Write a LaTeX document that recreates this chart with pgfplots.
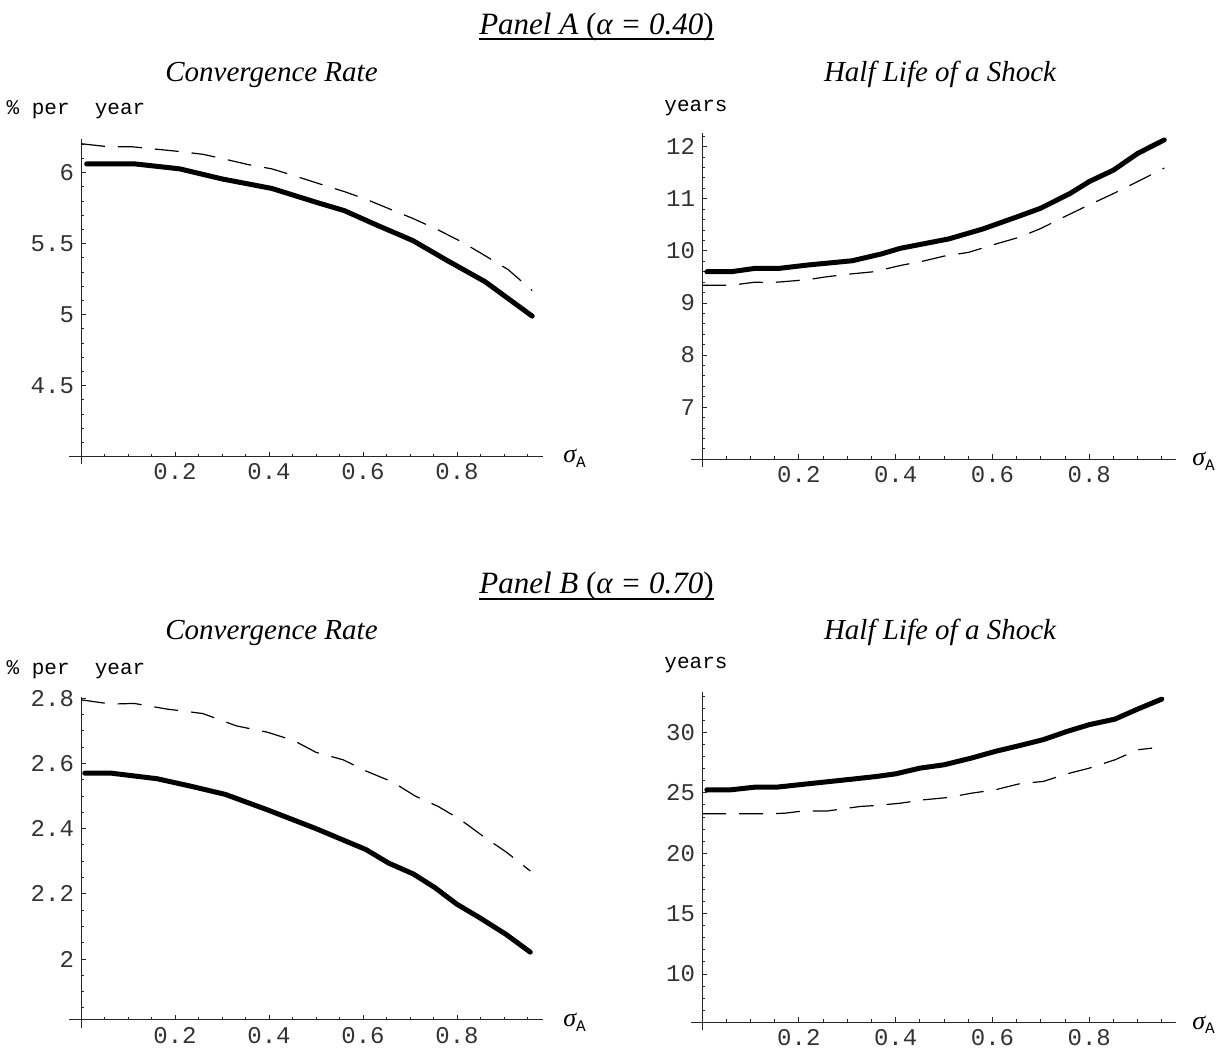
\documentclass[border=0pt]{standalone}
\usepackage{fontspec}
\setmainfont{Liberation Serif}
\setmonofont{Liberation Mono}
\usepackage{pgfplots}
\pgfplotsset{compat=1.18}

\pgfplotsset{
  mma/.style={
    scale only axis,
    axis lines=middle,
    axis line style={-, line width=0.5pt, black!85},
    inner axis line style={-},
    tick align=inside,
    major tick length=2.5pt,
    minor tick length=1.4pt,
    every tick/.style={black!85, line width=0.45pt},
    every minor tick/.style={black!85, line width=0.45pt},
    xtick={0.2,0.4,0.6,0.8},
    xticklabels={0.2,0.4,0.6,0.8},
    minor xtick={0.05,0.1,...,0.951},
    /pgf/number format/assume math mode=true,
    tick label style={font=\ttfamily\fontsize{12}{14}\selectfont, black!80},
    clip=false,
    anchor=south west,
  },
  thickline/.style={black, line width=2.5pt, line cap=round, line join=round},
  dashline/.style={black, line width=0.6pt, dash pattern=on 12pt off 6.5pt},
}
\tikzset{axext/.style={line width=0.5pt, black!85}}
\newcommand{\sigA}{{\fontsize{13}{15}\selectfont\itshape σ}{\ttfamily\fontsize{8}{9}\selectfont\raisebox{-2.5pt}{A}}}
\newcommand{\ttlab}{\ttfamily\fontsize{10.5}{13}\selectfont}
\newcommand{\ptitle}{\fontsize{15.5}{18}\selectfont}
\newcommand{\stitle}{\fontsize{14.5}{17}\selectfont\itshape}

\begin{document}
\begin{tikzpicture}
\useasboundingbox (0,0) rectangle (611.5pt,528.5pt);

% ---------------- Panel A left
\begin{axis}[mma, at={(34.63pt,300.15pt)}, width=237.1pt, height=159.05pt,
  xmin=-0.025, xmax=0.984, ymin=4, ymax=6.24,
  ytick={4.5,5,5.5,6}, yticklabels={4.5,5,5.5,6},
  minor ytick={4.1,4.2,...,6.21}]
\addplot[dashline] coordinates {
(0.00,6.204) (0.06,6.182) (0.11,6.182) (0.21,6.149) (0.26,6.129) (0.30,6.100)
(0.357,6.056) (0.406,6.027) (0.454,5.978) (0.507,5.922) (0.56,5.867) (0.608,5.811)
(0.657,5.744) (0.706,5.678) (0.758,5.600) (0.811,5.511) (0.86,5.415) (0.909,5.317) (0.96,5.170)};
\addplot[thickline] coordinates {
(0.012,6.062) (0.114,6.062) (0.21,6.027) (0.30,5.956) (0.406,5.889) (0.503,5.789)
(0.56,5.733) (0.63,5.630) (0.706,5.522) (0.78,5.380) (0.86,5.232) (0.96,4.990)};
\draw[axext] (axis cs:0,4) -- ++(0pt,-3.8pt);
\end{axis}

% ---------------- Panel A right
\begin{axis}[mma, at={(345.45pt,298.85pt)}, width=242.5pt, height=163.35pt,
  xmin=-0.023, xmax=0.979, ymin=6, ymax=12.27,
  ytick={7,8,9,10,11,12}, yticklabels={7,8,9,10,11,12},
  minor ytick={6.2,6.4,...,12.21}]
\addplot[dashline] coordinates {
(0.00,9.34) (0.06,9.34) (0.11,9.40) (0.14,9.39) (0.17,9.41) (0.22,9.45) (0.255,9.50)
(0.30,9.55) (0.355,9.60) (0.41,9.72) (0.46,9.81) (0.50,9.90) (0.55,9.97) (0.61,10.14)
(0.655,10.26) (0.70,10.43) (0.75,10.66) (0.79,10.84) (0.85,11.10) (0.90,11.33) (0.955,11.59)};
\addplot[thickline] coordinates {
(0.01,9.60) (0.06,9.60) (0.11,9.665) (0.16,9.665) (0.22,9.73) (0.31,9.81) (0.37,9.94)
(0.41,10.05) (0.51,10.23) (0.58,10.42) (0.65,10.65) (0.70,10.82) (0.76,11.10) (0.80,11.33)
(0.85,11.55) (0.90,11.87) (0.955,12.13)};
\draw[axext] (axis cs:0,6) -- ++(0pt,-3.8pt);
\end{axis}

% ---------------- Panel B left
\begin{axis}[mma, at={(34.63pt,18.5pt)}, width=237.1pt, height=161.7pt,
  xmin=-0.025, xmax=0.984, ymin=1.813, ymax=2.805,
  ytick={2,2.2,2.4,2.6,2.8}, yticklabels={2,2.2,2.4,2.6,2.8},
  minor ytick={1.85,1.9,...,2.76}]
\addplot[dashline] coordinates {
(0.00,2.795) (0.065,2.782) (0.113,2.784) (0.186,2.766) (0.21,2.762) (0.259,2.753)
(0.331,2.715) (0.396,2.696) (0.453,2.670) (0.50,2.634) (0.558,2.611) (0.606,2.577)
(0.663,2.543) (0.711,2.500) (0.76,2.468) (0.808,2.427) (0.857,2.375) (0.905,2.328) (0.956,2.270)};
\addplot[thickline] coordinates {
(0.008,2.570) (0.065,2.570) (0.162,2.553) (0.234,2.530) (0.307,2.505) (0.396,2.458)
(0.50,2.400) (0.606,2.336) (0.655,2.294) (0.707,2.261) (0.752,2.220) (0.80,2.168)
(0.849,2.126) (0.905,2.075) (0.956,2.021)};
\draw[axext] (axis cs:0,1.813) -- ++(0pt,-3.8pt);
\end{axis}

% ---------------- Panel B right
\begin{axis}[mma, at={(345.45pt,17.35pt)}, width=242.5pt, height=165.3pt,
  xmin=-0.023, xmax=0.979, ymin=6, ymax=33.37,
  ytick={10,15,20,25,30}, yticklabels={10,15,20,25,30},
  minor ytick={7,8,...,33}]
\addplot[dashline] coordinates {
(0.00,23.26) (0.056,23.26) (0.138,23.26) (0.171,23.31) (0.21,23.50) (0.26,23.50)
(0.327,23.87) (0.36,23.95) (0.41,24.14) (0.458,24.42) (0.508,24.61) (0.557,24.97)
(0.606,25.25) (0.656,25.75) (0.705,25.94) (0.754,26.57) (0.80,27.04) (0.853,27.73)
(0.90,28.56) (0.93,28.70)};
\addplot[thickline] coordinates {
(0.01,25.25) (0.06,25.25) (0.11,25.47) (0.155,25.47) (0.22,25.75) (0.31,26.13)
(0.36,26.35) (0.40,26.57) (0.45,27.04) (0.50,27.32) (0.556,27.87) (0.606,28.43)
(0.655,28.90) (0.705,29.40) (0.754,30.08) (0.80,30.64) (0.853,31.10) (0.90,31.93) (0.95,32.76)};
\draw[axext] (axis cs:0,6) -- ++(0pt,-3.8pt);
\end{axis}

% ---------------- Texts
\node[anchor=base, inner sep=0pt, font=\ptitle] (pa) at (298.25pt,511.3pt)
  {\textit{Panel A} (\textit{α = 0.40})};
\draw[line width=0.9pt] ([yshift=-2.5pt]pa.base west) -- ([yshift=-2.5pt]pa.base east);
\node[anchor=base, inner sep=0pt, font=\ptitle] (pb) at (298.25pt,231.5pt)
  {\textit{Panel B} (\textit{α = 0.70})};
\draw[line width=0.9pt] ([yshift=-2.5pt]pb.base west) -- ([yshift=-2.5pt]pb.base east);

\node[anchor=base, inner sep=0pt, font=\stitle] at (135.75pt,487.65pt) {Convergence Rate};
\node[anchor=base, inner sep=0pt, font=\stitle] at (470pt,487.65pt) {Half Life of a Shock};
\node[anchor=base, inner sep=0pt, font=\stitle] at (135.75pt,208.5pt) {Convergence Rate};
\node[anchor=base, inner sep=0pt, font=\stitle] at (470pt,208.5pt) {Half Life of a Shock};

\node[anchor=base, inner sep=0pt, font=\ttlab] at (38pt,471pt) {\%~per~~year};
\node[anchor=base, inner sep=0pt, font=\ttlab] at (348pt,472.5pt) {years};
\node[anchor=base, inner sep=0pt, font=\ttlab] at (38pt,191pt) {\%~per~~year};
\node[anchor=base, inner sep=0pt, font=\ttlab] at (348pt,194pt) {years};

\node[anchor=base west, inner sep=0pt] at (281.5pt,297pt) {\sigA};
\node[anchor=base west, inner sep=0pt] at (596pt,295.5pt) {\sigA};
\node[anchor=base west, inner sep=0pt] at (281.5pt,15.5pt) {\sigA};
\node[anchor=base west, inner sep=0pt] at (596pt,14pt) {\sigA};
\end{tikzpicture}
\end{document}
